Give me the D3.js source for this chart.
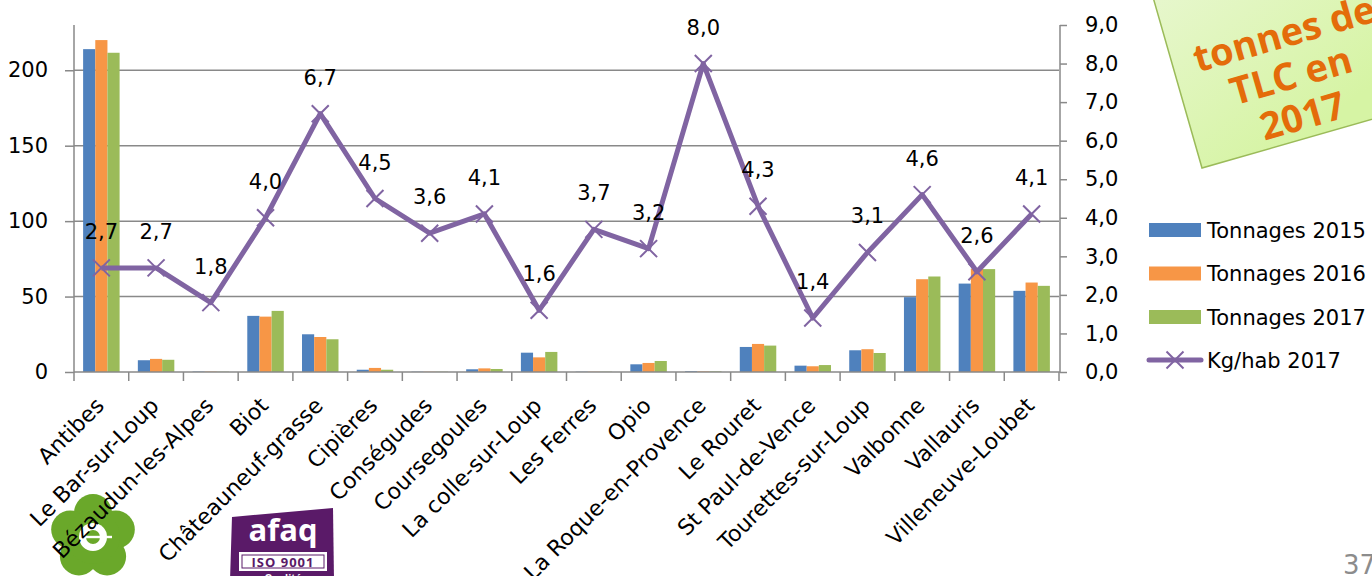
<!DOCTYPE html>
<html lang="fr">
<head>
<meta charset="utf-8">
<script src="https://cdn.jsdelivr.net/npm/d3@7"></script>
<style>
  html, body { margin: 0; padding: 0; background: #ffffff; }
  svg { display: block; }
  text { font-family: "DejaVu Sans", sans-serif; }
</style>
</head>
<body>
<svg id="chart" width="1372" height="576"></svg>
<script>
// Communes
const communes = [
  "Antibes", "Le Bar-sur-Loup", "Bézaudun-les-Alpes", "Biot", "Châteauneuf-grasse",
  "Cipières", "Conségudes", "Coursegoules", "La colle-sur-Loup", "Les Ferres",
  "Opio", "La Roque-en-Provence", "Le Rouret", "St Paul-de-Vence",
  "Tourettes-sur-Loup", "Valbonne", "Vallauris", "Villeneuve-Loubet"
];

// Tonnages collectés (t)
const tonnages2015 = [214, 7.8, 0.3, 37.2, 25.0, 1.5, 0.2, 1.8, 12.8, 0.2, 5.1, 0.5, 16.6, 4.2, 14.4, 49.6, 58.6, 53.8];
const tonnages2016 = [220, 8.7, 0.3, 36.7, 23.2, 2.7, 0.2, 2.4, 9.7, 0.2, 6.0, 0.4, 18.6, 3.8, 15.1, 61.5, 68.5, 59.3];
const tonnages2017 = [211.6, 8.1, 0.2, 40.5, 21.7, 1.5, 0.2, 2.0, 13.3, 0.2, 7.3, 0.4, 17.5, 4.6, 12.6, 63.3, 68.2, 57.1];

// Kg par habitant en 2017
const kgHab2017 = [2.7, 2.7, 1.8, 4.0, 6.7, 4.5, 3.6, 4.1, 1.6, 3.7, 3.2, 8.0, 4.3, 1.4, 3.1, 4.6, 2.6, 4.1];

// Graduations
const leftTicks = [0, 50, 100, 150, 200];
const rightTicks = [0, 1, 2, 3, 4, 5, 6, 7, 8, 9];

const seriesNames = ["Tonnages 2015", "Tonnages 2016", "Tonnages 2017"];
const seriesColors = ["#4f81bd", "#f79646", "#9bbb59"];
const lineName = "Kg/hab 2017";
const lineColor = "#8064a2";
const axisColor = "#898989";

const fmt = d => d.toFixed(1).replace(".", ",");

const svg = d3.select("#chart");

const plot = { left: 74, right: 1059, top: 25, bottom: 372 };

const x = d3.scaleBand().domain(communes).range([plot.left, plot.right]).paddingInner(0).paddingOuter(0);
const xSub = d3.scaleBand().domain(d3.range(3)).range([0, x.bandwidth()]).paddingInner(0).paddingOuter(0.75);
const yL = d3.scaleLinear().domain([0, 230]).range([plot.bottom, plot.top]);
const yR = d3.scaleLinear().domain([0, 9]).range([plot.bottom, plot.top]);

// ---- logos in the lower-left corner (drawn under the labels) ----
const logo = svg.append("g");
const flower = logo.append("g").attr("transform", "translate(93,537)");
const petalAngles = [-90, -18, 54, 126, 198];
flower.selectAll("circle.petal").data(petalAngles).join("circle")
  .attr("class", "petal")
  .attr("cx", a => 24 * Math.cos(a * Math.PI / 180))
  .attr("cy", a => 24 * Math.sin(a * Math.PI / 180))
  .attr("r", 19)
  .attr("fill", "#6aa82a");
flower.append("circle").attr("r", 27).attr("fill", "#6aa82a");
flower.append("circle").attr("r", 14).attr("fill", "#ffffff");
flower.append("circle").attr("r", 7).attr("fill", "#6aa82a");
flower.append("rect").attr("x", -7).attr("y", -1.2).attr("width", 26).attr("height", 2.4).attr("fill", "#ffffff");

const afaq = logo.append("g");
afaq.append("path")
  .attr("d", "M232,517 L333,508 L334,580 L230,580 Z")
  .attr("fill", "#5a1a68");
afaq.append("text").attr("x", 283).attr("y", 541).attr("text-anchor", "middle")
  .attr("font-weight", "bold")
  .attr("font-size", 31).attr("fill", "#ffffff").style("font-family", "'Open Sans', sans-serif")
  .text("afaq");
afaq.append("rect").attr("x", 239).attr("y", 552).attr("width", 88).attr("height", 19)
  .attr("fill", "#ffffff");
afaq.append("rect").attr("x", 242).attr("y", 555).attr("width", 82).attr("height", 13)
  .attr("fill", "none").attr("stroke", "#5a1a68").attr("stroke-width", 1);
afaq.append("text").attr("x", 283).attr("y", 567).attr("text-anchor", "middle")
  .attr("font-weight", "bold").attr("font-size", 13).attr("fill", "#5a1a68")
  .style("font-family", "'Open Sans', sans-serif").style("letter-spacing", "1px")
  .text("ISO 9001");
afaq.append("text").attr("x", 283).attr("y", 582).attr("text-anchor", "middle")
  .attr("font-weight", "bold").attr("font-size", 10).attr("fill", "#ffffff")
  .style("font-family", "'Open Sans', sans-serif")
  .text("Qualité");

// ---- sticky note in the upper-right corner ----
const note = svg.append("g").attr("transform", "translate(1202,168) rotate(-16)");
const grad = svg.append("defs").append("linearGradient")
  .attr("id", "noteFill").attr("x1", "0").attr("y1", "0").attr("x2", "0.4").attr("y2", "1");
grad.append("stop").attr("offset", "0").attr("stop-color", "#edf8dc");
grad.append("stop").attr("offset", "1").attr("stop-color", "#d6f4a4");
note.append("rect").attr("x", 0).attr("y", -260).attr("width", 260).attr("height", 260)
  .attr("fill", "url(#noteFill)").attr("stroke", "#9bbb59").attr("stroke-width", 1.5);
const noteLines = ["tonnes de", "TLC en", "2017"];
note.selectAll("text.note").data(noteLines).join("text")
  .attr("class", "note")
  .attr("x", (d, i) => i === 0 ? 116 : 111)
  .attr("y", (d, i) => -93 + i * 42)
  .attr("text-anchor", "middle")
  .attr("font-size", 38).attr("font-weight", "bold").attr("fill", "#e46c0a")
  .style("font-family", "'Open Sans', sans-serif")
  .text(d => d);

// ---- gridlines ----
svg.append("g").selectAll("line").data(leftTicks.filter(d => d > 0)).join("line")
  .attr("x1", plot.left).attr("x2", plot.right)
  .attr("y1", d => yL(d)).attr("y2", d => yL(d))
  .attr("stroke", axisColor).attr("stroke-width", 1.5);

// ---- bars ----
const barData = communes.map((c, i) => [tonnages2015[i], tonnages2016[i], tonnages2017[i]]);
const groups = svg.append("g").selectAll("g").data(barData).join("g")
  .attr("transform", (d, i) => `translate(${x(communes[i])},0)`);
groups.selectAll("rect").data(d => d).join("rect")
  .attr("x", (d, j) => xSub(j))
  .attr("width", xSub.bandwidth())
  .attr("y", d => yL(d))
  .attr("height", d => yL(0) - yL(d))
  .attr("fill", (d, j) => seriesColors[j]);

// ---- axes ----
const leftAxis = svg.append("g").attr("transform", `translate(${plot.left},0)`)
  .call(d3.axisLeft(yL).tickValues(leftTicks).tickSize(9).tickSizeOuter(0).tickPadding(17).tickFormat(d3.format("d")));
const rightAxis = svg.append("g").attr("transform", `translate(${plot.right + 1},0)`)
  .call(d3.axisRight(yR).tickValues(rightTicks).tickSize(7).tickSizeOuter(0).tickPadding(18).tickFormat(fmt));
[leftAxis, rightAxis].forEach(a => {
  a.selectAll("path, line").attr("stroke", axisColor).attr("stroke-width", 1.5);
  a.selectAll("text").attr("font-size", 21).attr("fill", "#000").style("font-family", "'DejaVu Sans', sans-serif");
});
leftAxis.select("path.domain").attr("d", `M0,${yL(0) + 0.5}V${plot.top}`);
rightAxis.select("path.domain").attr("d", `M0,${yR(0) + 0.5}V${plot.top}`);

// category axis: baseline with ticks between categories
const bottom = svg.append("g");
bottom.append("line")
  .attr("x1", plot.left).attr("x2", plot.right + 1)
  .attr("y1", plot.bottom).attr("y2", plot.bottom)
  .attr("stroke", axisColor).attr("stroke-width", 1.5);
const boundaries = communes.map(c => x(c)).concat([x.range()[1]]);
bottom.selectAll("line.tick").data(boundaries).join("line")
  .attr("class", "tick")
  .attr("x1", d => d).attr("x2", d => d)
  .attr("y1", plot.bottom).attr("y2", plot.bottom + 9)
  .attr("stroke", axisColor).attr("stroke-width", 1.5);
bottom.selectAll("text").data(communes).join("text")
  .attr("transform", d => `translate(${x(d) + x.bandwidth() / 2 + 4},407) rotate(-45)`)
  .attr("text-anchor", "end")
  .attr("font-size", 22)
  .attr("fill", "#000")
  .text(d => d);

// ---- line series on the secondary axis ----
const cx = (d, i) => x(communes[i]) + x.bandwidth() / 2;
const line = d3.line().x(cx).y(d => yR(d));
svg.append("path").datum(kgHab2017)
  .attr("d", line)
  .attr("fill", "none").attr("stroke", lineColor).attr("stroke-width", 5)
  .attr("stroke-linejoin", "round");
const marker = "M-8.5,-8.5L8.5,8.5M-8.5,8.5L8.5,-8.5";
svg.append("g").selectAll("path").data(kgHab2017).join("path")
  .attr("transform", (d, i) => `translate(${cx(d, i)},${yR(d)})`)
  .attr("d", marker)
  .attr("stroke", lineColor).attr("stroke-width", 2);
svg.append("g").selectAll("text").data(kgHab2017).join("text")
  .attr("x", cx)
  .attr("y", d => yR(d) - 29)
  .attr("text-anchor", "middle")
  .attr("font-size", 21)
  .attr("fill", "#000")
  .text(fmt);

// ---- legend ----
const legend = svg.append("g").attr("transform", "translate(1149,0)");
const legendY = [230, 273.5, 317, 360];
seriesNames.forEach((name, i) => {
  legend.append("rect").attr("x", 0).attr("y", legendY[i] - 7).attr("width", 52).attr("height", 14)
    .attr("fill", seriesColors[i]);
  legend.append("text").attr("x", 58).attr("y", legendY[i]).attr("dy", "0.36em")
    .attr("font-size", 21).attr("fill", "#000").text(name);
});
legend.append("line").attr("x1", 0).attr("x2", 52).attr("y1", legendY[3]).attr("y2", legendY[3])
  .attr("stroke", lineColor).attr("stroke-width", 5).attr("stroke-linecap", "round");
legend.append("path").attr("transform", `translate(26,${legendY[3]})`).attr("d", marker)
  .attr("stroke", lineColor).attr("stroke-width", 2);
legend.append("text").attr("x", 58).attr("y", legendY[3]).attr("dy", "0.36em")
  .attr("font-size", 21).attr("fill", "#000").text(lineName);

// ---- slide number ----
svg.append("text").attr("x", 1343).attr("y", 574)
  .attr("font-size", 26).attr("fill", "#8c8c8c").text("37");
</script>
</body>
</html>
